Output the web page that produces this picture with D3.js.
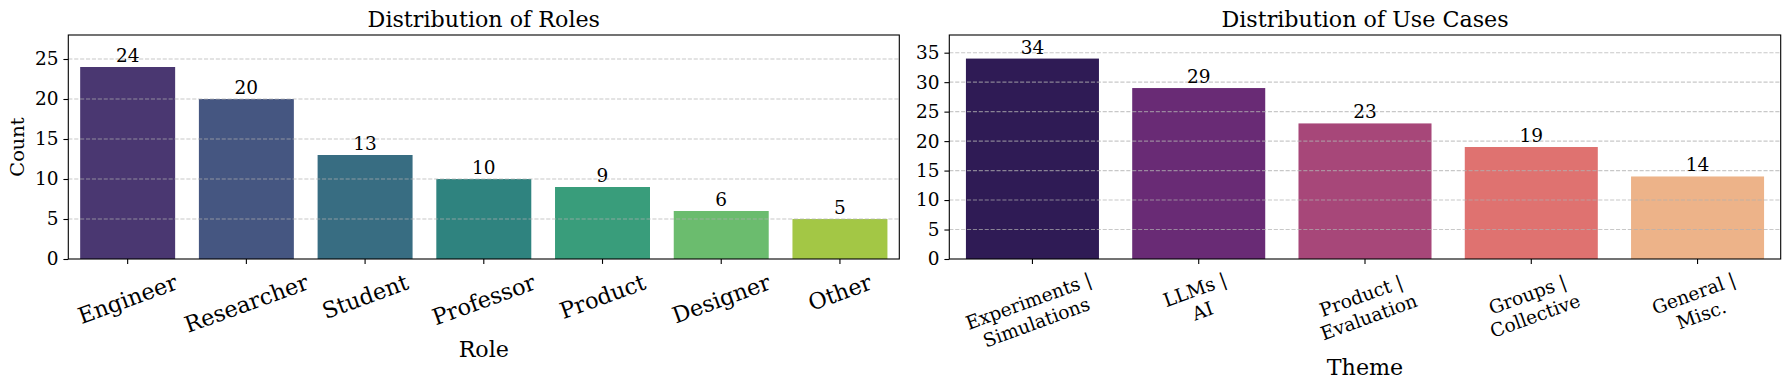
<!DOCTYPE html>
<html>
<head>
<meta charset="utf-8">
<script src="https://cdn.jsdelivr.net/npm/d3@7"></script>
<style>
  html, body { margin: 0; padding: 0; background: #fff; }
  svg { display: block; font-family: "DejaVu Serif", serif; }
</style>
</head>
<body>
<svg id="chart" width="1790" height="390"></svg>
<script>
// ---- data ----
const roles = ["Engineer", "Researcher", "Student", "Professor", "Product", "Designer", "Other"];
const roleCounts = [24, 20, 13, 10, 9, 6, 5];
const roleTicks = [0, 5, 10, 15, 20, 25];

const themes = ["Experiments |\nSimulations", "LLMs |\nAI", "Product |\nEvaluation", "Groups |\nCollective", "General |\nMisc."];
const themeCounts = [34, 29, 23, 19, 14];
const themeTicks = [0, 5, 10, 15, 20, 25, 30, 35];

// ---- layout ----
const svg = d3.select("#chart");
const plotTop = 35, plotBottom = 259;
const tickLen = 4.9, tickPad = 4.9;

function desat(c) {
  const h = d3.hsl(c);
  h.s *= 0.75;
  return h.formatHex();
}

function panel(opts) {
  const { x0, x1, cats, vals, ymax, ticks, title, xlabel, ylabel, interp, xFont, xlabelY } = opts;
  const g = svg.append("g");
  const x = d3.scaleBand().domain(cats).range([x0, x1]).paddingInner(0.2).paddingOuter(0.1);
  const y = d3.scaleLinear().domain([0, ymax]).range([plotBottom, plotTop]);
  const n = cats.length;
  const colors = cats.map((c, i) => desat(interp((i + 1) / (n + 1))));

  // bars
  g.selectAll("rect.bar").data(cats).join("rect")
    .attr("x", d => x(d)).attr("width", x.bandwidth())
    .attr("y", (d, i) => y(vals[i])).attr("height", (d, i) => y(0) - y(vals[i]))
    .attr("fill", (d, i) => colors[i]);

  // grid (on top of bars)
  g.selectAll("line.grid").data(ticks.filter(t => t > 0)).join("line")
    .attr("x1", x0).attr("x2", x1)
    .attr("y1", d => y(d)).attr("y2", d => y(d))
    .attr("stroke", "#b0b0b0").attr("stroke-opacity", 0.7)
    .attr("stroke-width", 1.1).attr("stroke-dasharray", "4.1,1.8");

  // value labels
  g.selectAll("text.val").data(cats).join("text")
    .attr("x", d => x(d) + x.bandwidth() / 2)
    .attr("y", (d, i) => y(vals[i]) - 5)
    .attr("text-anchor", "middle").attr("font-size", 18.5).attr("fill", "#000")
    .text((d, i) => vals[i]);

  // y axis
  const yAxis = d3.axisLeft(y).tickValues(ticks).tickSize(tickLen).tickPadding(tickPad).tickFormat(d3.format("d"));
  const ya = g.append("g").attr("transform", `translate(${x0},0)`).call(yAxis);
  ya.select(".domain").remove();
  ya.selectAll("line").attr("stroke", "#000").attr("stroke-width", 1.1);
  ya.selectAll("text").attr("font-size", 18.5).attr("font-family", "DejaVu Serif").attr("fill", "#000");

  // x axis ticks
  const xAxis = d3.axisBottom(x).tickSize(tickLen).tickFormat("");
  const xa = g.append("g").attr("transform", `translate(0,${plotBottom})`).call(xAxis);
  xa.select(".domain").remove();
  xa.selectAll("line").attr("stroke", "#000").attr("stroke-width", 1.1);

  // rotated x tick labels
  const ang = 20 * Math.PI / 180;
  cats.forEach(c => {
    const lines = c.split("\n");
    const outer = g.append("g");
    const t = outer.append("text").attr("font-size", xFont).attr("text-anchor", "middle").attr("fill", "#000");
    lines.forEach((ln, i) => {
      t.append("tspan").attr("x", 0).attr("dy", i === 0 ? 0 : xFont * 1.2).text(ln);
    });
    const bb = t.node().getBBox();
    const cx = bb.x + bb.width / 2, cy = bb.y + bb.height / 2;
    t.attr("transform", `rotate(-20) translate(${-cx},${-cy})`);
    const H = bb.width * Math.sin(ang) + bb.height * Math.cos(ang);
    const tx = x(c) + x.bandwidth() / 2;
    outer.attr("transform", `translate(${tx},${plotBottom + tickLen + tickPad + H / 2})`);
  });

  // frame
  g.append("rect").attr("x", x0).attr("y", plotTop).attr("width", x1 - x0).attr("height", plotBottom - plotTop)
    .attr("fill", "none").attr("stroke", "#000").attr("stroke-width", 1.1);

  // title
  g.append("text").attr("x", (x0 + x1) / 2).attr("y", 26.7).attr("text-anchor", "middle")
    .attr("font-size", 22.2).attr("fill", "#000").text(title);
  // xlabel
  g.append("text").attr("x", (x0 + x1) / 2).attr("y", xlabelY).attr("text-anchor", "middle")
    .attr("font-size", 22.2).attr("fill", "#000").text(xlabel);
  if (ylabel) {
    g.append("text").attr("transform", `translate(24,${(plotTop + plotBottom) / 2}) rotate(-90)`)
      .attr("text-anchor", "middle").attr("font-size", 19.4).attr("fill", "#000").text(ylabel);
  }
}

panel({
  x0: 68.3, x1: 899.3, cats: roles, vals: roleCounts, ymax: 28, ticks: roleTicks,
  title: "Distribution of Roles", xlabel: "Role", ylabel: "Count",
  interp: d3.interpolateViridis, xFont: 22.4, xlabelY: 356.7
});
panel({
  x0: 949.3, x1: 1780.7, cats: themes, vals: themeCounts, ymax: 38, ticks: themeTicks,
  title: "Distribution of Use Cases", xlabel: "Theme", ylabel: null,
  interp: d3.interpolateMagma, xFont: 18.7, xlabelY: 375
});
</script>
</body>
</html>
